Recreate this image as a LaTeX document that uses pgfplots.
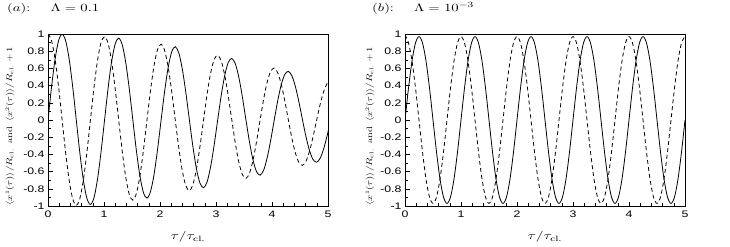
\documentclass[border=0pt]{standalone}
\usepackage{fontspec}
\usepackage{graphicx}
\usepackage{pgfplots}
\pgfplotsset{compat=1.18}
\newfontfamily\tickfont[FakeStretch=1.3]{Liberation Sans}
\pgfplotsset{myax/.style={
  scale only axis, width=280bp, height=172bp,
  xmin=0, xmax=5, ymin=-1, ymax=1,
  xtick={0,1,2,3,4,5},
  ytick={-1,-0.8,-0.6,-0.4,-0.2,0,0.2,0.4,0.6,0.8,1},
  minor x tick num=4, minor y tick num=1,
  tick align=inside, xtick pos=bottom, ytick pos=left,
  major tick length=4.5bp, minor tick length=3bp,
  tick style={black, line width=0.6bp},
  axis line style={black, line width=0.8bp},
  /pgf/number format/assume math mode=true,
  tick label style={font=\tickfont\fontsize{9.5}{11}\selectfont},
  xticklabel style={yshift=-1bp},
  xlabel={\scalebox{1.4}[1]{\fontsize{11}{13}\selectfont$\tau/\tau_{\rm cl.}$}},
  xlabel style={at={(axis description cs:0.5,-0.18)}, anchor=center},
  ylabel={\scalebox{1}[0.75]{\fontsize{10.5}{12}\selectfont$\langle x^1(\tau)\rangle/R_{\rm cl.}$\enspace and\enspace $\langle x^2(\tau)\rangle/R_{\rm cl.}+1$}},
}}
\tikzset{solidc/.style={black, no marks, solid, line width=0.8bp, smooth},
  dashc/.style={black, no marks, line width=0.8bp, smooth, dash pattern=on 4bp off 3bp}}
\begin{document}
\begin{tikzpicture}[x=1bp,y=1bp]
\useasboundingbox (0,0) rectangle (730,246);
\node[anchor=base west, inner sep=0] at (7,235) {\scalebox{1.35}[1]{\fontsize{11}{13}\selectfont$(a)$:\hspace{15pt}$\Lambda = 0.1$}};
\node[anchor=base west, inner sep=0] at (372,235) {\scalebox{1.35}[1]{\fontsize{11}{13}\selectfont$(b)$:\hspace{15pt}$\Lambda = 10^{-3}$}};
\begin{axis}[myax, at={(48bp,40bp)}, anchor=south west,
  ylabel style={at={(axis description cs:-0.136,0.465)}, anchor=center}]
\addplot[solidc] coordinates {(0,0) (0.0631,0.383) (0.1263,0.707) (0.1894,0.923) (0.2525,0.998) (0.3156,0.921) (0.3788,0.704) (0.4419,0.381) (0.5050,0) (0.5681,-0.379) (0.6313,-0.698) (0.6944,-0.910) (0.7575,-0.982) (0.8206,-0.905) (0.8838,-0.690) (0.9469,-0.373) (1.0100,0) (1.0731,0.370) (1.1363,0.679) (1.1994,0.884) (1.2625,0.952) (1.3256,0.875) (1.3888,0.666) (1.4519,0.359) (1.5150,0) (1.5781,-0.355) (1.6413,-0.650) (1.7044,-0.844) (1.7675,-0.908) (1.8306,-0.833) (1.8938,-0.633) (1.9569,-0.340) (2.0200,0) (2.0831,0.335) (2.1463,0.613) (2.2094,0.794) (2.2725,0.852) (2.3356,0.780) (2.3988,0.591) (2.4619,0.317) (2.5250,0) (2.5881,-0.311) (2.6513,-0.569) (2.7144,-0.735) (2.7775,-0.787) (2.8406,-0.720) (2.9038,-0.544) (2.9669,-0.292) (3.0300,0) (3.0931,0.285) (3.1563,0.519) (3.2194,0.670) (3.2825,0.716) (3.3456,0.653) (3.4088,0.493) (3.4719,0.264) (3.5350,0) (3.5981,-0.256) (3.6613,-0.467) (3.7244,-0.601) (3.7875,-0.641) (3.8506,-0.584) (3.9138,-0.440) (3.9769,-0.235) (4.0400,0) (4.1031,0.227) (4.1663,0.413) (4.2294,0.531) (4.2925,0.565) (4.3556,0.513) (4.4188,0.386) (4.4819,0.205) (4.5450,0) (4.6081,-0.198) (4.6713,-0.359) (4.7344,-0.461) (4.7975,-0.490) (4.8606,-0.444) (4.9238,-0.333) (4.9869,-0.177) (5.0500,0)};
\addplot[dashc] coordinates {(0,1) (0.0631,0.924) (0.1263,0.707) (0.1894,0.383) (0.2525,0) (0.3156,-0.382) (0.3788,-0.704) (0.4419,-0.918) (0.5050,-0.992) (0.5681,-0.915) (0.6313,-0.698) (0.6944,-0.377) (0.7575,0) (0.8206,0.375) (0.8838,0.690) (0.9469,0.899) (1.0100,0.969) (1.0731,0.892) (1.1363,0.679) (1.1994,0.366) (1.2625,0) (1.3256,-0.363) (1.3888,-0.666) (1.4519,-0.866) (1.5150,-0.931) (1.5781,-0.855) (1.6413,-0.650) (1.7044,-0.350) (1.7675,0) (1.8306,0.345) (1.8938,0.633) (1.9569,0.821) (2.0200,0.881) (2.0831,0.808) (2.1463,0.613) (2.2094,0.329) (2.2725,0) (2.3356,-0.323) (2.3988,-0.591) (2.4619,-0.766) (2.5250,-0.821) (2.5881,-0.751) (2.6513,-0.569) (2.7144,-0.305) (2.7775,0) (2.8406,0.298) (2.9038,0.544) (2.9669,0.703) (3.0300,0.752) (3.0931,0.687) (3.1563,0.519) (3.2194,0.278) (3.2825,0) (3.3456,-0.271) (3.4088,-0.493) (3.4719,-0.636) (3.5350,-0.679) (3.5981,-0.619) (3.6613,-0.467) (3.7244,-0.249) (3.7875,0) (3.8506,0.242) (3.9138,0.440) (3.9769,0.566) (4.0400,0.603) (4.1031,0.548) (4.1663,0.413) (4.2294,0.220) (4.2925,0) (4.3556,-0.213) (4.4188,-0.386) (4.4819,-0.496) (4.5450,-0.527) (4.6081,-0.478) (4.6713,-0.359) (4.7344,-0.191) (4.7975,0) (4.8606,0.184) (4.9238,0.333) (4.9869,0.427) (5.0500,0.454)};
\end{axis}
\begin{axis}[myax, at={(405bp,40bp)}, anchor=south west,
  ylabel style={at={(axis description cs:-0.125,0.465)}, anchor=center}]
\addplot[solidc] coordinates {(0,0) (0.0625,0.372) (0.125,0.686) (0.1875,0.896) (0.25,0.970) (0.3125,0.896) (0.375,0.686) (0.4375,0.372) (0.5,0) (0.5625,-0.372) (0.625,-0.686) (0.6875,-0.896) (0.75,-0.970) (0.8125,-0.896) (0.875,-0.686) (0.9375,-0.372)
(1,0) (1.0625,0.372) (1.125,0.686) (1.1875,0.896) (1.25,0.970) (1.3125,0.896) (1.375,0.686) (1.4375,0.372) (1.5,0) (1.5625,-0.372) (1.625,-0.686) (1.6875,-0.896) (1.75,-0.970) (1.8125,-0.896) (1.875,-0.686) (1.9375,-0.372)
(2,0) (2.0625,0.372) (2.125,0.686) (2.1875,0.896) (2.25,0.970) (2.3125,0.896) (2.375,0.686) (2.4375,0.372) (2.5,0) (2.5625,-0.372) (2.625,-0.686) (2.6875,-0.896) (2.75,-0.970) (2.8125,-0.896) (2.875,-0.686) (2.9375,-0.372)
(3,0) (3.0625,0.372) (3.125,0.686) (3.1875,0.896) (3.25,0.970) (3.3125,0.896) (3.375,0.686) (3.4375,0.372) (3.5,0) (3.5625,-0.372) (3.625,-0.686) (3.6875,-0.896) (3.75,-0.970) (3.8125,-0.896) (3.875,-0.686) (3.9375,-0.372)
(4,0) (4.0625,0.372) (4.125,0.686) (4.1875,0.896) (4.25,0.970) (4.3125,0.896) (4.375,0.686) (4.4375,0.372) (4.5,0) (4.5625,-0.372) (4.625,-0.686) (4.6875,-0.896) (4.75,-0.970) (4.8125,-0.896) (4.875,-0.686) (4.9375,-0.372) (5,0)};
\addplot[dashc] coordinates {(0,0.990) (0.0625,0.896) (0.125,0.686) (0.1875,0.372) (0.25,0) (0.3125,-0.372) (0.375,-0.686) (0.4375,-0.896) (0.5,-0.970) (0.5625,-0.896) (0.625,-0.686) (0.6875,-0.372) (0.75,0) (0.8125,0.372) (0.875,0.686) (0.9375,0.896)
(1,0.970) (1.0625,0.896) (1.125,0.686) (1.1875,0.372) (1.25,0) (1.3125,-0.372) (1.375,-0.686) (1.4375,-0.896) (1.5,-0.970) (1.5625,-0.896) (1.625,-0.686) (1.6875,-0.372) (1.75,0) (1.8125,0.372) (1.875,0.686) (1.9375,0.896)
(2,0.970) (2.0625,0.896) (2.125,0.686) (2.1875,0.372) (2.25,0) (2.3125,-0.372) (2.375,-0.686) (2.4375,-0.896) (2.5,-0.970) (2.5625,-0.896) (2.625,-0.686) (2.6875,-0.372) (2.75,0) (2.8125,0.372) (2.875,0.686) (2.9375,0.896)
(3,0.970) (3.0625,0.896) (3.125,0.686) (3.1875,0.372) (3.25,0) (3.3125,-0.372) (3.375,-0.686) (3.4375,-0.896) (3.5,-0.970) (3.5625,-0.896) (3.625,-0.686) (3.6875,-0.372) (3.75,0) (3.8125,0.372) (3.875,0.686) (3.9375,0.896)
(4,0.970) (4.0625,0.896) (4.125,0.686) (4.1875,0.372) (4.25,0) (4.3125,-0.372) (4.375,-0.686) (4.4375,-0.896) (4.5,-0.970) (4.5625,-0.896) (4.625,-0.686) (4.6875,-0.372) (4.75,0) (4.8125,0.372) (4.875,0.686) (4.9375,0.896) (5,0.970)};
\end{axis}
\end{tikzpicture}
\end{document}
